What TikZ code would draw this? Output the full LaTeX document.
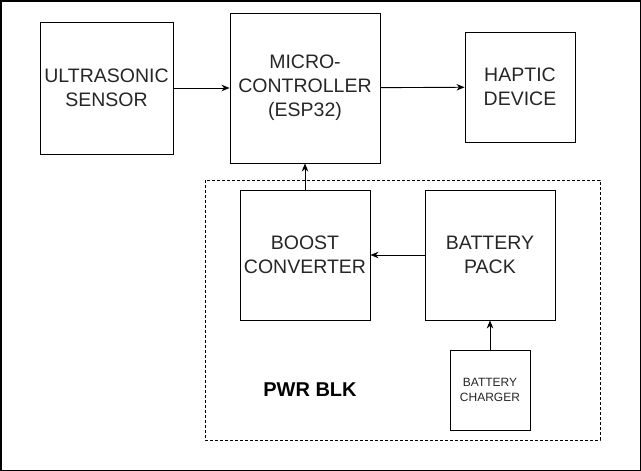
\documentclass[tikz,border=0pt]{standalone}
\usepackage{fontspec}
\setmainfont{Liberation Sans}
\usetikzlibrary{arrows.meta}
\newcommand{\bigtxt}{\fontsize{19.5}{24}\selectfont}
\newcommand{\smalltxt}{\fontsize{12}{15}\selectfont}

\begin{document}
\begin{tikzpicture}[x=1pt,y=-1pt,
    blk/.style={draw,line width=0.9pt,rectangle,inner sep=0pt,align=center,font=\bigtxt,text=black!85},
    arr/.style={-{Stealth[length=8pt,width=6.5pt,inset=2.5pt]},line width=0.9pt}]
      \useasboundingbox (0,0) rectangle (641,471);
      \draw[line width=1.5pt] (0.75,0.75) rectangle (640.25,470.25);
      \draw[dashed,line width=0.8pt,dash pattern=on 3pt off 2pt] (205,180) rectangle (600,440);
      \node[blk,minimum width=133pt,minimum height=132pt] (sensor) at (106.5,88) {ULTRASONIC\\SENSOR};
      \node[blk,minimum width=150pt,minimum height=150pt] (mcu) at (305,88) {MICRO-\\CONTROLLER\\(ESP32)};
      \node[blk,minimum width=110pt,minimum height=110pt] (haptic) at (520,87) {HAPTIC\\DEVICE};
      \node[blk,minimum width=130pt,minimum height=130pt] (boost) at (305,255) {BOOST\\CONVERTER};
      \node[blk,minimum width=130pt,minimum height=130pt] (pack) at (490,255) {BATTERY\\PACK};
      \node[blk,minimum width=80pt,minimum height=80pt,font=\smalltxt] (charger) at (490,390) {BATTERY\\CHARGER};
      \node[font=\fontsize{20}{24}\selectfont\bfseries] (pwr) at (310,390) {PWR BLK};
      \draw[arr] (sensor) -- (mcu);
      \draw[arr] (mcu) -- (haptic);
      \draw[arr] (boost) -- (mcu);
      \draw[arr] (pack) -- (boost);
      \draw[arr] (charger) -- (pack);
     \end{tikzpicture}
\end{document}
